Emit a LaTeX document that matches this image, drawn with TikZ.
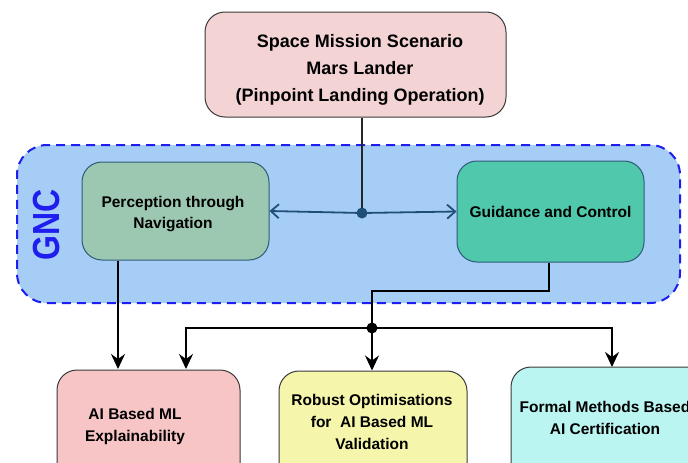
\documentclass[tikz,border=0pt]{standalone}
\usepackage{fontspec}
\setmainfont{Liberation Sans}
\usetikzlibrary{arrows.meta,calc}

\definecolor{topfill}{HTML}{F4D3D5}
\definecolor{gncfill}{HTML}{A6CDF5}
\definecolor{gncline}{HTML}{1E1EF0}
\definecolor{percfill}{HTML}{9CC8B1}
\definecolor{guidfill}{HTML}{50C8AC}
\definecolor{aifill}{HTML}{F8C5C6}
\definecolor{robfill}{HTML}{F5F5AB}
\definecolor{formfill}{HTML}{BAF5F1}
\definecolor{boxline}{HTML}{3A3A3A}
\definecolor{innerline}{HTML}{2E5A78}
\definecolor{flowblue}{HTML}{1F4E79}

\tikzset{
  x=1pt, y=-1pt,
  box/.style={draw=boxline, line width=1pt, rounded corners=20pt, inner sep=0pt,
              align=center, font=\bfseries},
  innerbox/.style={draw=innerline, line width=1pt, rounded corners=20pt, inner sep=0pt,
              align=center, font=\bfseries\fontsize{15.5}{19}\selectfont},
  label/.style={align=center, inner sep=0pt, font=\bfseries\fontsize{15.5}{22}\selectfont},
  flow/.style={draw=black, line width=1.8pt},
  solidtip/.style={-{Stealth[length=15pt,width=14pt,inset=5pt]}},
  barbtip/.style={-{Straight Barb[length=8pt,width=14pt]}},
  flowarrow/.style={flow, solidtip},
  gncflow/.style={draw=flowblue, line width=1.8pt},
  gncarrow/.style={gncflow, barbtip},
  dot/.style={circle, inner sep=0pt, minimum size=11pt}
}

\begin{document}
\begin{tikzpicture}
\clip (0,0) rectangle (688,463);
\fill[white] (0,0) rectangle (688,463);

% GNC container
\node[draw=gncline, fill=gncfill, line width=2pt, dash pattern=on 9pt off 6pt,
      rounded corners=30pt, minimum width=663pt, minimum height=158pt, inner sep=0pt]
      (gnc) at (348.5,224) {};
\node[rotate=90, text=gncline, inner sep=0pt,
      font=\bfseries\fontsize{32}{32}\selectfont] (gnctitle) at (47,225)
      {\scalebox{1}[1.18]{GNC}};

% mission scenario
\node[box, fill=topfill, minimum width=301pt, minimum height=105pt] (top) at (355.5,64.5) {};
\node[align=center, inner sep=0pt, font=\bfseries\fontsize{18}{27}\selectfont]
      (toptext) at (360,69.5)
      {Space Mission Scenario\\Mars Lander\\(Pinpoint Landing Operation)};

% GNC blocks
\node[innerbox, fill=percfill, minimum width=187pt, minimum height=98pt] (perc)
      at (175.5,211) {};
\node[label, font=\bfseries\fontsize{15.5}{21}\selectfont] (perctext) at (173,214)
      {Perception through\\Navigation};
\node[innerbox, fill=guidfill, minimum width=187pt, minimum height=101pt] (guid)
      at (550.5,211.5) {Guidance and Control};

% lower blocks
\node[box, fill=aifill, minimum width=183pt, minimum height=130pt] (ai) at (148.5,435) {};
\node[box, fill=robfill, minimum width=188pt, minimum height=130pt] (rob) at (373,436) {};
\node[box, fill=formfill, minimum width=200pt, minimum height=130pt] (form) at (611,432) {};

\node[label] (aitext) at (135,426.5) {AI Based ML\\Explainability};
\node[label] (robtext) at (372,422) {Robust Optimisations\\for\ \ AI Based ML\\Validation};
\node[label] (formtext) at (605,418) {Formal Methods Based\\AI Certification};

% junctions
\coordinate (j1) at (362,213);
\coordinate (j2) at (372,328);
\coordinate (g1) at (549,291);

% mission to GNC
\draw[gncflow, draw=black!85] (top.south -| j1) -- (j1);
\draw[gncarrow] (j1) -- (perc.east);
\draw[gncarrow] (j1) -- (guid.west);
\node[dot, fill=flowblue] (j1dot) at (j1) {};

% guidance to lower blocks
\draw[flow] (guid.south -| g1) -- (g1) -- (g1 -| j2) -- (j2);
\draw[flowarrow] (j2) -- (186,328) -- (186,369);
\draw[flowarrow] (j2) -- (j2 |- rob.north);
\draw[flowarrow] (j2) -- (612,328) -- (612,367);
\node[dot, fill=black] (j2dot) at (j2) {};

% navigation to explainability
\draw[flowarrow] (perc.south -| 118,0) -- (118,369);
\end{tikzpicture}
\end{document}
